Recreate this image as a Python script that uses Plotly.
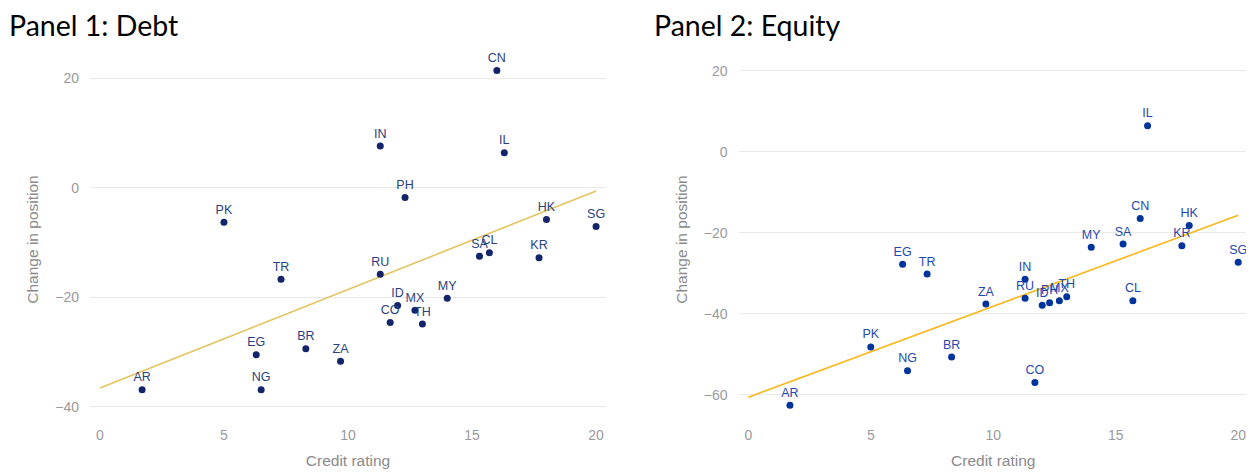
import plotly.graph_objects as go

# ---- data ----
debt_countries = ["CN", "IN", "IL", "PH", "PK", "HK", "SG", "SA", "CL", "KR", "RU", "TR",
                  "MY", "ID", "MX", "CO", "TH", "EG", "BR", "ZA", "AR", "NG"]
debt_rating = [16.0, 11.3, 16.3, 12.3, 5.0, 18.0, 20.0, 15.3, 15.7, 17.7, 11.3, 7.3,
               14.0, 12.0, 12.7, 11.7, 13.0, 6.3, 8.3, 9.7, 1.7, 6.5]
debt_change = [21.4, 7.6, 6.4, -1.8, -6.3, -5.8, -7.1, -12.5, -11.9, -12.8, -15.8, -16.7,
               -20.2, -21.5, -22.4, -24.6, -24.9, -30.5, -29.4, -31.7, -36.9, -36.9]

equity_countries = ["IL", "CN", "HK", "SA", "MY", "KR", "SG", "EG", "TR", "IN", "RU", "ID",
                    "PH", "MX", "TH", "CL", "ZA", "PK", "BR", "NG", "CO", "AR"]
equity_rating = [16.3, 16.0, 18.0, 15.3, 14.0, 17.7, 20.0, 6.3, 7.3, 11.3, 11.3, 12.0,
                 12.3, 12.7, 13.0, 15.7, 9.7, 5.0, 8.3, 6.5, 11.7, 1.7]
equity_change = [6.4, -16.5, -18.2, -22.8, -23.6, -23.2, -27.3, -27.8, -30.2, -31.5, -36.2, -37.9,
                 -37.3, -36.8, -35.8, -36.8, -37.6, -48.2, -50.7, -54.1, -57.0, -62.6]

trend_x = [0, 20]
debt_trend = [-36.6, -0.6]
equity_trend = [-60.6, -15.7]

x_ticks = [0, 5, 10, 15, 20]
debt_y_ticks = [-40, -20, 0, 20]
equity_y_ticks = [-60, -40, -20, 0, 20]

panel_titles = ["Panel 1: Debt", "Panel 2: Equity"]
x_title = "Credit rating"
y_title = "Change in position"

# ---- style ----
OFF = 8  # page body margin
W, H = 1254 - OFF, 472 - OFF
font_axis = "Liberation Sans, Arial, sans-serif"
tick_color = "#9a9a9a"
grid_color = "#e9e9e9"

def px_x(p):
    return (p - OFF) / W

def px_y(p):
    return 1 - (p - OFF) / H

fig = go.Figure()

fig.add_trace(go.Scatter(x=trend_x, y=debt_trend, mode="lines",
                         line=dict(color="#e3c463", width=1.6),
                         xaxis="x", yaxis="y", showlegend=False, hoverinfo="skip"))
fig.add_trace(go.Scatter(x=debt_rating, y=debt_change, mode="markers+text",
                         text=debt_countries, textposition="top center", cliponaxis=False,
                         textfont=dict(family=font_axis, size=12.5, color="#2a3f80"),
                         marker=dict(color="#13246a", size=7),
                         xaxis="x", yaxis="y", showlegend=False))

fig.add_trace(go.Scatter(x=trend_x, y=equity_trend, mode="lines",
                         line=dict(color="#fbb61a", width=1.6),
                         xaxis="x2", yaxis="y2", showlegend=False, hoverinfo="skip"))
fig.add_trace(go.Scatter(x=equity_rating, y=equity_change, mode="markers+text",
                         text=equity_countries, textposition="top center", cliponaxis=False,
                         textfont=dict(family=font_axis, size=12.5, color="#1f48ad"),
                         marker=dict(color="#00349c", size=7),
                         xaxis="x2", yaxis="y2", showlegend=False))

ydom = [px_y(424), px_y(55)]

def xaxis(domain, anchor):
    return dict(domain=domain, anchor=anchor, range=[-0.4, 20.4], tickvals=x_ticks,
                showgrid=False, zeroline=False, showline=False,
                tickfont=dict(family=font_axis, size=14, color=tick_color),
                title=dict(text=x_title, font=dict(family=font_axis, size=15.5, color="#8a8a8a"),
                           standoff=13),
                automargin=False, ticklabelstandoff=1)

def yaxis(rng, ticks, anchor):
    return dict(domain=ydom, anchor=anchor, range=rng, tickvals=ticks,
                showgrid=True, gridcolor=grid_color, gridwidth=1, zeroline=False, showline=False,
                tickfont=dict(family=font_axis, size=14, color=tick_color),
                title=dict(text=y_title, font=dict(family=font_axis, size=15.5, color="#8a8a8a"),
                           standoff=12),
                automargin=False, ticklabelstandoff=10)

fig.update_layout(
    width=W, height=H,
    margin=dict(l=0, r=0, t=0, b=0),
    paper_bgcolor="white", plot_bgcolor="white",
    xaxis=xaxis([px_x(90), px_x(606)], "y"),
    yaxis=yaxis([-43.16, 24.24], debt_y_ticks, "x"),
    xaxis2=xaxis([px_x(738.5), px_x(1248)], "y2"),
    yaxis2=yaxis([-67.23, 23.88], equity_y_ticks, "x2"),
    annotations=[
        dict(text=panel_titles[0], x=px_x(8), y=px_y(25), xref="paper", yref="paper",
             xanchor="left", yanchor="middle", showarrow=False, borderpad=0,
             font=dict(family="Lato, sans-serif", size=28.5, color="#000000")),
        dict(text=panel_titles[1], x=px_x(653), y=px_y(25), xref="paper", yref="paper",
             xanchor="left", yanchor="middle", showarrow=False, borderpad=0,
             font=dict(family="Lato, sans-serif", size=28.5, color="#000000")),
    ],
)

fig.write_html("out.html")
